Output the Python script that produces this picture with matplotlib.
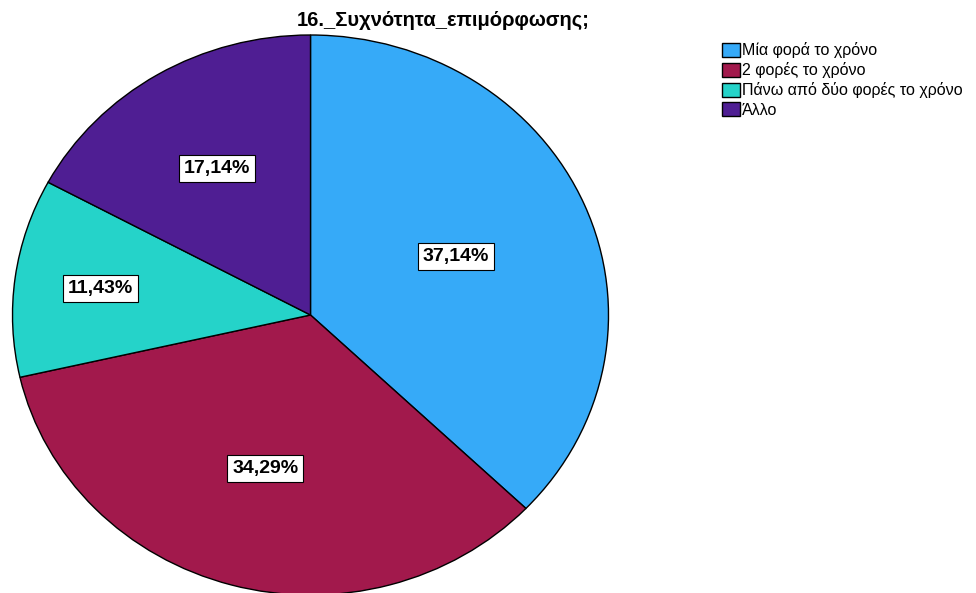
import numpy as np
import matplotlib
matplotlib.use("Agg")
import matplotlib.pyplot as plt

plt.rcParams["font.family"] = ["Liberation Sans", "DejaVu Sans"]

# Survey answers and their shares (percent)
categories = ["Μία φορά το χρόνο", "2 φορές το χρόνο",
              "Πάνω από δύο φορές το χρόνο", "Άλλο"]
shares = [37.14, 34.29, 11.43, 17.14]
colors = ["#36aaf8", "#a2194c", "#25d3c9", "#4f1e93"]
label_radius = [0.53, 0.57, 0.71, 0.61]

fig = plt.figure(figsize=(9.76, 5.93), dpi=100)
W, H = 976, 593
# pie area in pixels: x 12..608, y 35..595 (slightly wider than tall)
ax = fig.add_axes([12.5 / W, (H - 595) / H, 596 / W, 560 / H])

wedges, _ = ax.pie(shares, colors=colors, startangle=90, counterclock=False,
                   wedgeprops=dict(edgecolor="black", linewidth=1.0),
                   radius=1.0)
ax.set_xlim(-1.0, 1.0)
ax.set_ylim(-1.0, 1.0)
ax.set_aspect("auto")
ax.axis("off")

for w, val, r in zip(wedges, shares, label_radius):
    mid = np.deg2rad((w.theta1 + w.theta2) / 2)
    ax.text(r * np.cos(mid), r * np.sin(mid), f"{val:.2f}%".replace(".", ","),
            ha="center", va="center", fontsize=14, fontweight="bold",
            bbox=dict(boxstyle="square,pad=0.25", facecolor="white",
                      edgecolor="black", linewidth=0.8))

fig.text(443 / W, 1 - 20 / H, "16._Συχνότητα_επιμόρφωσης;",
         ha="center", va="center", fontsize=14.5, fontweight="bold", zorder=5)

fig.legend(wedges, categories, loc="upper left",
           bbox_to_anchor=(711 / W, 1 - 31 / H), frameon=False,
           fontsize=11.5, handlelength=1.1, handleheight=0.95,
           handletextpad=0.15, labelspacing=0.25, borderpad=0.2)

fig.savefig("out.png", dpi=100)
